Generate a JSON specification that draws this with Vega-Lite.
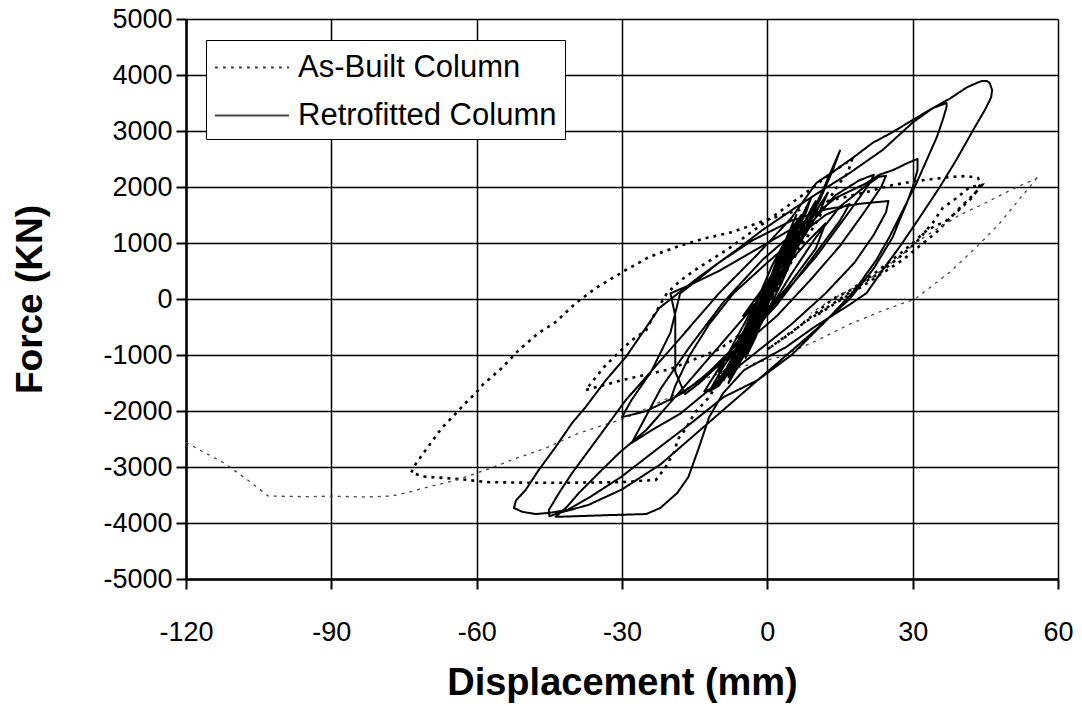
{
  "$schema": "https://vega.github.io/schema/vega-lite/v6.json",
  "width": 872,
  "height": 560,
  "autosize": {"type": "none"},
  "padding": {"left": 186, "top": 19, "right": 24, "bottom": 127},
  "background": "white",
  "config": {"view": {"stroke": null}, "font": "Liberation Sans"},
  "datasets": {
    "R": [
      {"x":0,"y":0},{"x":1,"y":250},{"x":2,"y":500},{"x":3,"y":750},{"x":1.5,"y":500},{"x":0,"y":200},{"x":-1,"y":-200},{"x":-2,"y":-450},{"x":-3,"y":-700},{"x":-1.5,"y":-450},{"x":0,"y":-150},{"x":1,"y":200},{"x":3,"y":700},{"x":4,"y":1000},{"x":2.5,"y":750},{"x":0.5,"y":300},{"x":-1.5,"y":-300},{"x":-3.5,"y":-800},{"x":-4.5,"y":-1050},{"x":-2.5,"y":-700},{"x":-0.5,"y":-250},{"x":1.5,"y":350},{"x":4,"y":900},{"x":5.5,"y":1250},{"x":3.5,"y":950},{"x":1,"y":450},{"x":-2,"y":-250},{"x":-5,"y":-900},{"x":-6.5,"y":-1250},{"x":-4,"y":-900},{"x":-1,"y":-350},{"x":2,"y":400},{"x":5,"y":1100},{"x":7,"y":1500},{"x":5,"y":1250},{"x":1,"y":600},{"x":-3,"y":-200},{"x":-6,"y":-950},{"x":-8,"y":-1400},{"x":-5.5,"y":-1100},{"x":-1,"y":-400},{"x":3,"y":300},{"x":6,"y":900},{"x":8,"y":1300},{"x":6.5,"y":1200},{"x":2,"y":600},{"x":-2,"y":0},{"x":-7,"y":-800},{"x":-10,"y":-1300},{"x":-9,"y":-1350},{"x":-4,"y":-800},{"x":0,"y":-200},
      {"x":1,"y":300},{"x":4,"y":1100},{"x":6,"y":1500},{"x":5,"y":1300},{"x":2,"y":700},{"x":-1,"y":0},{"x":-4,"y":-700},{"x":-6,"y":-1150},{"x":-5,"y":-1000},{"x":-2,"y":-400},{"x":1,"y":250},{"x":4,"y":950},{"x":7,"y":1350},{"x":6,"y":1350},{"x":3,"y":800},{"x":0,"y":100},{"x":-3,"y":-550},{"x":-7,"y":-1250},{"x":-8,"y":-1500},{"x":-6,"y":-1200},{"x":-2,"y":-350},{"x":2,"y":450},{"x":5,"y":1000},{"x":8,"y":1550},{"x":9,"y":1800},{"x":7,"y":1450},{"x":3,"y":650},{"x":-1,"y":-100},{"x":-5,"y":-850},{"x":-9,"y":-1450},{"x":-7,"y":-1050},{"x":-3,"y":-300},{"x":0,"y":200},{"x":3,"y":850},{"x":2,"y":600},{"x":-2,"y":-150},{"x":-4,"y":-600},{"x":-3,"y":-700},{"x":0,"y":0},
      {"x":2,"y":300},{"x":6,"y":1100},{"x":9,"y":1600},{"x":10,"y":1750},{"x":8,"y":1400},{"x":3,"y":600},{"x":-2,"y":-300},{"x":-7,"y":-1000},{"x":-10,"y":-1500},{"x":-11,"y":-1600},{"x":-8,"y":-1300},{"x":-3,"y":-500},{"x":1,"y":100},{"x":5,"y":800},{"x":8,"y":1250},{"x":11,"y":1700},{"x":12.5,"y":1900},{"x":11,"y":1600},{"x":6,"y":900},{"x":0,"y":0},{"x":-5,"y":-700},{"x":-9,"y":-1200},{"x":-12,"y":-1650},{"x":-10,"y":-1550},{"x":-5,"y":-900},{"x":0,"y":-100},{"x":3,"y":400},{"x":6,"y":1000},{"x":4,"y":850},{"x":0,"y":300},{"x":-4,"y":-400},{"x":-6,"y":-800},{"x":-4,"y":-650},{"x":0,"y":-100},
      {"x":3,"y":500},{"x":8,"y":1250},{"x":14,"y":1850},{"x":19,"y":2120},{"x":22,"y":2220},{"x":21,"y":2050},{"x":16,"y":1450},{"x":10,"y":750},{"x":3,"y":50},{"x":-5,"y":-700},{"x":-12,"y":-1300},{"x":-17,"y":-1650},{"x":-20,"y":-1800},{"x":-19,"y":-1550},{"x":-16,"y":-1000},{"x":-12,"y":-450},{"x":-7,"y":100},{"x":0,"y":650},{"x":6,"y":1100},{"x":12,"y":1500},{"x":17,"y":1700},{"x":15,"y":1400},{"x":9,"y":700},{"x":2,"y":-100},{"x":-6,"y":-850},{"x":-14,"y":-1500},{"x":-17,"y":-1700},{"x":-19,"y":-1300},{"x":-19,"y":-300},{"x":-20,"y":100},{"x":-16,"y":250},{"x":-10,"y":500},{"x":-4,"y":800},{"x":3,"y":1150},{"x":8,"y":1400},{"x":6,"y":1000},{"x":0,"y":300},{"x":-5,"y":-300},
      {"x":4,"y":500},{"x":8,"y":1300},{"x":12,"y":2050},{"x":15,"y":2650},{"x":13.5,"y":2300},{"x":11,"y":1800},{"x":7,"y":1100},{"x":2,"y":300},{"x":-4,"y":-500},{"x":-9,"y":-1100},{"x":-13,"y":-1650},{"x":-11.5,"y":-1600},{"x":-6,"y":-1000},{"x":0,"y":-250},
      {"x":5,"y":450},{"x":10,"y":1100},{"x":15,"y":1650},{"x":20,"y":2000},{"x":23,"y":2180},{"x":24.5,"y":2200},{"x":23.5,"y":2000},{"x":20,"y":1550},{"x":15,"y":950},{"x":9,"y":350},{"x":2,"y":-300},{"x":-6,"y":-900},{"x":-13,"y":-1400},{"x":-19,"y":-1750},{"x":-25,"y":-2000},{"x":-30,"y":-2110},
      {"x":-28,"y":-1800},{"x":-24,"y":-1300},{"x":-20,"y":-600},{"x":-18,"y":100},{"x":-15,"y":300},{"x":-10,"y":650},{"x":-3,"y":1050},{"x":5,"y":1400},{"x":12,"y":1600},{"x":19,"y":1700},{"x":25,"y":1750},{"x":24.5,"y":1550},{"x":22,"y":1150},{"x":18,"y":650},{"x":12,"y":100},{"x":5,"y":-450},{"x":-3,"y":-1000},{"x":-11,"y":-1550},{"x":-18,"y":-2050},{"x":-24,"y":-2350},{"x":-28,"y":-2570},
      {"x":-26,"y":-2250},{"x":-22,"y":-1600},{"x":-16,"y":-850},{"x":-9,"y":-50},{"x":-1,"y":700},{"x":7,"y":1300},{"x":14,"y":1800},{"x":20.5,"y":2070},{"x":23,"y":2214},{"x":26,"y":2304},{"x":29,"y":2430},{"x":31,"y":2500},{"x":31,"y":2300},{"x":30,"y":2000},{"x":28.8,"y":1714},{"x":27.3,"y":1411},{"x":25.9,"y":1107},{"x":22,"y":550},{"x":17,"y":0},{"x":10,"y":-550},{"x":2,"y":-1150},{"x":-6,"y":-1750},{"x":-14,"y":-2350},{"x":-22,"y":-2950},{"x":-30,"y":-3400},{"x":-37,"y":-3680},{"x":-43,"y":-3820},{"x":-45,"y":-3880},
      {"x":-45.1,"y":-3768},{"x":-43,"y":-3464},{"x":-40.3,"y":-3107},{"x":-36.8,"y":-2697},{"x":-33.3,"y":-2286},{"x":-29.2,"y":-1804},{"x":-25,"y":-1393},{"x":-18,"y":-700},{"x":-10,"y":100},{"x":-2,"y":800},{"x":5,"y":1450},{"x":10.1,"y":2071},{"x":13.5,"y":2268},{"x":17.6,"y":2518},{"x":21.7,"y":2786},{"x":25.9,"y":2982},{"x":30,"y":3196},{"x":34.2,"y":3411},{"x":37,"y":3500},{"x":37,"y":3429},{"x":36.2,"y":3196},{"x":35,"y":2893},{"x":32.9,"y":2482},{"x":30.8,"y":2071},{"x":28,"y":1589},{"x":25.2,"y":1107},{"x":22.5,"y":696},{"x":18,"y":150},{"x":12,"y":-400},{"x":5,"y":-1000},{"x":-2,"y":-1450},{"x":-9,"y":-1750},{"x":-15.7,"y":-2214},{"x":-23,"y":-2697},{"x":-30.2,"y":-3179},{"x":-36.6,"y":-3536},{"x":-41.3,"y":-3768},{"x":-45.1,"y":-3820},{"x":-47.8,"y":-3840},{"x":-50.6,"y":-3800},{"x":-52.3,"y":-3732},
      {"x":-51.9,"y":-3600},{"x":-49.9,"y":-3411},{"x":-47.2,"y":-3054},{"x":-43.7,"y":-2643},{"x":-40.3,"y":-2214},{"x":-37.5,"y":-1929},{"x":-33.3,"y":-1446},{"x":-29.2,"y":-1036},{"x":-24.4,"y":-429},{"x":-22.3,"y":-161},{"x":-14.1,"y":393},{"x":-6.4,"y":875},{"x":-1,"y":1232},{"x":6,"y":1643},{"x":11.4,"y":1946},{"x":17,"y":2250},{"x":23.8,"y":2661},{"x":30,"y":3150},{"x":34,"y":3400},{"x":37.7,"y":3580},{"x":41.2,"y":3780},{"x":43.2,"y":3857},{"x":44.3,"y":3893},{"x":45.3,"y":3893},{"x":45.9,"y":3857},{"x":46.4,"y":3732},{"x":46.2,"y":3600},{"x":44.9,"y":3375},{"x":42.5,"y":3018},{"x":39,"y":2482},{"x":35.6,"y":2000},{"x":31.5,"y":1464},{"x":27.3,"y":929},{"x":23.8,"y":518},{"x":20.5,"y":107},{"x":17,"y":-100},{"x":9.7,"y":-500},{"x":3.9,"y":-857},{"x":-4.8,"y":-1268},{"x":-9.1,"y":-1679},{"x":-12,"y":-2107},{"x":-14.3,"y":-2697},{"x":-16.3,"y":-3179},{"x":-18.6,"y":-3464},{"x":-22.1,"y":-3732},{"x":-25,"y":-3840},{"x":-33,"y":-3860},{"x":-41.6,"y":-3885},{"x":-43.7,"y":-3890},
      {"x":-41.4,"y":-3714},{"x":-38.9,"y":-3464},{"x":-34.8,"y":-3107},{"x":-30.6,"y":-2750},{"x":-25,"y":-2340},{"x":-18,"y":-1650},{"x":-11,"y":-950},{"x":-4,"y":-250},{"x":2,"y":400},{"x":8,"y":1000},{"x":12,"y":1350},{"x":10,"y":900},{"x":4,"y":200},{"x":-2,"y":-400},{"x":-6,"y":-700},{"x":-4,"y":-500},{"x":0,"y":0}
    ],
    "A1": [
      {"x":0,"y":0},{"x":3,"y":500},{"x":6,"y":1000},{"x":3,"y":450},{"x":-2,"y":-300},{"x":-5,"y":-800},{"x":-7,"y":-1100},{"x":-3,"y":-500},{"x":2,"y":200},{"x":6,"y":900},{"x":9,"y":1400},{"x":6,"y":1000},{"x":1,"y":200},{"x":-4,"y":-600},{"x":-8,"y":-1200},{"x":-11,"y":-1500},{"x":-7,"y":-1100},{"x":-2,"y":-400},{"x":4,"y":500},{"x":9,"y":1350},{"x":5,"y":900},{"x":0,"y":-300},{"x":-10,"y":-900},{"x":-20,"y":-1250},{"x":-30,"y":-1450},{"x":-37.5,"y":-1625},{"x":-33.7,"y":-1214},{"x":-30.8,"y":-964},{"x":-27.9,"y":-732},{"x":-25,"y":-554},{"x":-23.6,"y":-321},{"x":-20.7,"y":107},{"x":-17.8,"y":339},{"x":-14.9,"y":518},{"x":-8,"y":900},{"x":0,"y":1400},{"x":8,"y":1900},{"x":14,"y":2300},{"x":17.5,"y":2500},{"x":16.6,"y":2250},{"x":14.9,"y":2071},{"x":12.5,"y":1750},{"x":10,"y":1350},{"x":6,"y":800},{"x":0,"y":0},{"x":-6,"y":-900},{"x":-12,"y":-1750},{"x":-15,"y":-2036},{"x":-17,"y":-2340},{"x":-18.6,"y":-2518},{"x":-19,"y":-2697},{"x":-21,"y":-3000},{"x":-23,"y":-3230},{"x":-30,"y":-3270},{"x":-40,"y":-3280},{"x":-50,"y":-3280},{"x":-58,"y":-3270},{"x":-62,"y":-3230},{"x":-66,"y":-3200},{"x":-71,"y":-3170},{"x":-73.5,"y":-3100},{"x":-73,"y":-3000},{"x":-72,"y":-2875},{"x":-68.7,"y":-2482},{"x":-67.2,"y":-2304},{"x":-65.2,"y":-2125},{"x":-62.3,"y":-1857},{"x":-60.2,"y":-1679},{"x":-58.6,"y":-1518},{"x":-55,"y":-1250},{"x":-51.3,"y":-911},{"x":-47.2,"y":-607},{"x":-43.7,"y":-411},{"x":-39.5,"y":-71},{"x":-35.4,"y":196},{"x":-29.2,"y":518},{"x":-24.4,"y":750},{"x":-17.6,"y":964},{"x":-12.6,"y":1089},{"x":-7.2,"y":1196},{"x":-0.2,"y":1411},{"x":5.2,"y":1554},{"x":13.4,"y":1768},{"x":20.5,"y":1911},{"x":25.9,"y":2036},{"x":30.8,"y":2107},{"x":37.7,"y":2179},{"x":41.2,"y":2196},{"x":43.5,"y":2160},{"x":44,"y":2050},{"x":42.4,"y":1821},{"x":39.7,"y":1600},{"x":37,"y":1400},{"x":33,"y":1232},{"x":28,"y":850},{"x":22,"y":450},{"x":17,"y":150},{"x":13.5,"y":0},{"x":5,"y":-600},{"x":0,"y":-900},{"x":8,"y":-400},{"x":15,"y":0},{"x":20,"y":300},{"x":23.2,"y":464},{"x":27.3,"y":750},{"x":30.8,"y":1018},{"x":34.1,"y":1357},{"x":36.2,"y":1625},{"x":39,"y":1800},{"x":41.8,"y":2000},{"x":44.3,"y":2036},{"x":43,"y":1900},{"x":40,"y":1650},{"x":35,"y":1200},{"x":28,"y":700},{"x":20,"y":250},{"x":10,"y":-300}
    ],
    "A2": [
      {"x":-120,"y":-2560},{"x":-116,"y":-2750},{"x":-112.1,"y":-2929},{"x":-107,"y":-3250},{"x":-103,"y":-3518},{"x":-95,"y":-3530},{"x":-90,"y":-3520},{"x":-83,"y":-3536},{"x":-77.6,"y":-3518},{"x":-74,"y":-3450},{"x":-70,"y":-3357},{"x":-65,"y":-3250},{"x":-61.7,"y":-3161},{"x":-57,"y":-3018},{"x":-52.8,"y":-2875},{"x":-45.7,"y":-2661},{"x":-38.9,"y":-2393},{"x":-29.2,"y":-2125},{"x":-20,"y":-1750},{"x":-12,"y":-1393},{"x":-5,"y":-1200},{"x":2.5,"y":-1036},{"x":10,"y":-750},{"x":17,"y":-450},{"x":24,"y":-200},{"x":30.5,"y":0},{"x":37.7,"y":482},{"x":43,"y":911},{"x":48,"y":1357},{"x":50.7,"y":1643},{"x":54.8,"y":2071},{"x":56,"y":2200},{"x":55.5,"y":2150},{"x":51.5,"y":2000},{"x":45,"y":1714},{"x":39.7,"y":1500},{"x":35,"y":1250},{"x":30.8,"y":1018},{"x":27.3,"y":750},{"x":21.7,"y":393},{"x":17,"y":161},{"x":13.5,"y":0},{"x":9,"y":-250}
    ]
  },
  "encoding": {
    "x": {
      "field": "x", "type": "quantitative",
      "scale": {"domain": [-120, 60], "nice": false, "zero": false},
      "axis": {
        "values": [-120, -90, -60, -30, 0, 30, 60],
        "labelExpr": "'' + datum.value",
        "grid": true, "gridColor": "black", "gridWidth": 1.5, "gridOpacity": 1,
        "domainColor": "black", "domainWidth": 2.5,
        "tickColor": "black", "tickSize": 10, "tickWidth": 2,
        "labelFontSize": 27, "labelColor": "black", "labelPadding": 30, "labelFlush": false, "labelOverlap": false,
        "title": "Displacement (mm)", "titleFontSize": 38, "titleFontWeight": "bold", "titleColor": "black",
        "titleX": 436, "titleY": 104, "titleBaseline": "middle", "titleAlign": "center"
      }
    },
    "y": {
      "field": "y", "type": "quantitative",
      "scale": {"domain": [-5000, 5000], "nice": false, "zero": false},
      "axis": {
        "values": [-5000, -4000, -3000, -2000, -1000, 0, 1000, 2000, 3000, 4000, 5000],
        "labelExpr": "'' + datum.value",
        "grid": true, "gridColor": "black", "gridWidth": 1.5, "gridOpacity": 1,
        "domainColor": "black", "domainWidth": 2.5,
        "tickColor": "black", "tickSize": 10, "tickWidth": 2,
        "labelFontSize": 27, "labelColor": "black", "labelPadding": 4, "labelFlush": false, "labelOverlap": false,
        "title": "Force (KN)", "titleFontSize": 37, "titleFontWeight": "bold", "titleColor": "black",
        "titleX": -156, "titleY": 280, "titleAngle": 270, "titleBaseline": "middle", "titleAlign": "center"
      }
    }
  },
  "layer": [
    {
      "data": {"name": "A1"},
      "mark": {"type": "line", "clip": true, "color": "black", "strokeWidth": 2.6},
      "encoding": {
        "strokeDash": {
          "datum": "As-Built Column", "type": "nominal",
          "scale": {"domain": ["As-Built Column", "Retrofitted Column"], "range": [[3, 5], [1, 0]]},
          "legend": {
            "orient": "none", "legendX": 20, "legendY": 21, "title": null,
            "symbolType": "M-1,0H3", "symbolSize": 1369, "symbolStrokeColor": "black", "symbolStrokeWidth": 2,
            "labelFontSize": 31, "labelColor": "black", "labelOffset": 45, "labelLimit": 400,
            "padding": 8, "rowPadding": 13,
            "fillColor": "white", "strokeColor": "black"
          }
        },
        "order": {"value": null}
      }
    },
    {
      "data": {"name": "A2"},
      "mark": {"type": "line", "clip": true, "color": "#444444", "strokeWidth": 1.3},
      "encoding": {
        "strokeDash": {
          "datum": "As-Built Column", "type": "nominal",
          "scale": {"domain": ["As-Built Column", "Retrofitted Column"], "range": [[3, 5], [1, 0]]}
        },
        "order": {"value": null}
      }
    },
    {
      "data": {"name": "R"},
      "mark": {"type": "line", "clip": true, "color": "black", "strokeWidth": 2, "strokeJoin": "round"},
      "encoding": {
        "strokeDash": {
          "datum": "Retrofitted Column", "type": "nominal",
          "scale": {"domain": ["As-Built Column", "Retrofitted Column"], "range": [[3, 5], [1, 0]]}
        },
        "order": {"value": null}
      }
    }
  ],
  "resolve": {"scale": {"strokeDash": "shared"}, "legend": {"strokeDash": "shared"}}
}
